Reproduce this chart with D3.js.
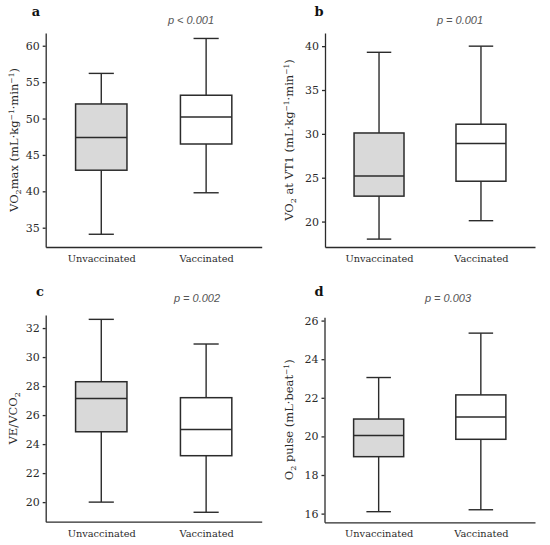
<!DOCTYPE html>
<html>
<head>
<meta charset="utf-8">
<script src="https://cdn.jsdelivr.net/npm/d3@7"></script>
<style>
  body { margin: 0; background: #fff; }
  svg { display: block; }
</style>
</head>
<body>
<svg id="chart" width="550" height="545"></svg>
<script>
var groups = ["Unvaccinated", "Vaccinated"];

// min, Q1, median, Q3, max
var vo2max = [[34.1, 42.9, 47.4, 52.0, 56.2], [39.8, 46.5, 50.2, 53.2, 61.0]];
var vo2vt1 = [[18.0, 22.9, 25.2, 30.1, 39.3], [20.1, 24.6, 28.9, 31.1, 40.0]];
var veVco2 = [[20.0, 24.85, 27.15, 28.3, 32.6], [19.3, 23.2, 25.0, 27.2, 30.9]];
var o2pulse = [[16.1, 18.95, 20.05, 20.9, 23.05], [16.2, 19.85, 21.0, 22.15, 25.35]];

var vo2maxTicks = [35, 40, 45, 50, 55, 60];
var vo2vt1Ticks = [20, 25, 30, 35, 40];
var veVco2Ticks = [20, 22, 24, 26, 28, 30, 32];
var o2pulseTicks = [16, 18, 20, 22, 24, 26];

var letters = ["a", "b", "c", "d"];
var pLabels = ["p < 0.001", "p = 0.001", "p = 0.002", "p = 0.003"];

var vo2maxTitle = [["VO", ""], ["2", "sub"], ["max (mL·kg", ""], ["−1", "sup"], ["·min", ""], ["−1", "sup"], [")", ""]];
var vo2vt1Title = [["VO", ""], ["2", "sub"], [" at VT1 (mL·kg", ""], ["−1", "sup"], ["·min", ""], ["−1", "sup"], [")", ""]];
var veVco2Title = [["VE/VCO", ""], ["2", "sub"]];
var o2pulseTitle = [["O", ""], ["2", "sub"], [" pulse (mL·beat", ""], ["−1", "sup"], [")", ""]];

var fills = ["#d9d9d9", "#ffffff"];
var ink = "#2b2b2b";

var panels = [
    {stats: vo2max, ticks: vo2maxTicks, title: vo2maxTitle, domain: [32.35, 61.75],
        left: 45.7, right: 261.7, top: 33, bottom: 247, titleX: 14, letterX: 36, letterY: 16, pX: 191, pY: 24},
    {stats: vo2vt1, ticks: vo2vt1Ticks, title: vo2vt1Title, domain: [17.1, 41.5],
        left: 325, right: 535, top: 33, bottom: 247, titleX: 289, letterX: 319, letterY: 16, pX: 460, pY: 24},
    {stats: veVco2, ticks: veVco2Ticks, title: veVco2Title, domain: [18.65, 32.9],
        left: 45.7, right: 261.7, top: 315, bottom: 521.7, titleX: 13, letterX: 40, letterY: 296, pX: 197, pY: 302},
    {stats: o2pulse, ticks: o2pulseTicks, title: o2pulseTitle, domain: [15.55, 26.17],
        left: 324.5, right: 535, top: 317.3, bottom: 522.3, titleX: 289, letterX: 319, letterY: 296, pX: 448, pY: 302}
];

var svg = d3.select("#chart");

panels.forEach(function (p, i) {
    var g = svg.append("g");

    var x = d3.scalePoint()
        .domain(groups)
        .range([p.left, p.right])
        .padding(0.53);

    var y = d3.scaleLinear()
        .domain(p.domain)
        .range([p.bottom, p.top]);

    var step = x.step();
    var boxW = step * 0.49;
    var capW = step * 0.24;

    // y axis
    var yAxis = g.append("g")
        .attr("transform", "translate(" + p.left + ",0)")
        .call(d3.axisLeft(y).tickValues(p.ticks).tickSize(3).tickSizeOuter(0).tickPadding(3));
    yAxis.select(".domain").attr("stroke", ink).attr("stroke-width", 1.3);
    yAxis.selectAll(".tick line").attr("stroke", ink).attr("stroke-width", 1.3);
    yAxis.selectAll(".tick text")
        .attr("fill", ink)
        .style("font-family", "'DejaVu Serif', serif")
        .style("font-size", "11px");

    // x axis
    var xAxis = g.append("g")
        .attr("transform", "translate(0," + p.bottom + ")")
        .call(d3.axisBottom(x).tickSize(0).tickSizeOuter(0).tickPadding(8));
    xAxis.select(".domain").attr("stroke", ink).attr("stroke-width", 1.3);
    xAxis.selectAll(".tick text")
        .attr("fill", ink)
        .style("font-family", "'DejaVu Serif', serif")
        .style("font-size", "9.8px");

    var box = g.selectAll(".box")
        .data(p.stats)
        .enter().append("g")
        .attr("class", "box");

    // whiskers
    box.append("line")
        .attr("x1", function (d, j) { return x(groups[j]); })
        .attr("x2", function (d, j) { return x(groups[j]); })
        .attr("y1", function (d) { return y(d[0]); })
        .attr("y2", function (d) { return y(d[4]); })
        .attr("stroke", ink)
        .attr("stroke-width", 1.4);

    [0, 4].forEach(function (k) {
        box.append("line")
            .attr("x1", function (d, j) { return x(groups[j]) - capW / 2; })
            .attr("x2", function (d, j) { return x(groups[j]) + capW / 2; })
            .attr("y1", function (d) { return y(d[k]); })
            .attr("y2", function (d) { return y(d[k]); })
            .attr("stroke", ink)
            .attr("stroke-width", 1.4);
    });

    box.append("rect")
        .attr("x", function (d, j) { return x(groups[j]) - boxW / 2; })
        .attr("y", function (d) { return y(d[3]); })
        .attr("width", boxW)
        .attr("height", function (d) { return y(d[1]) - y(d[3]); })
        .attr("fill", function (d, j) { return fills[j]; })
        .attr("stroke", ink)
        .attr("stroke-width", 1.5);

    box.append("line")
        .attr("x1", function (d, j) { return x(groups[j]) - boxW / 2; })
        .attr("x2", function (d, j) { return x(groups[j]) + boxW / 2; })
        .attr("y1", function (d) { return y(d[2]); })
        .attr("y2", function (d) { return y(d[2]); })
        .attr("stroke", ink)
        .attr("stroke-width", 1.5);

    // y title
    var midY = (p.top + p.bottom) / 2;
    var title = g.append("text")
        .attr("transform", "translate(" + p.titleX + "," + midY + ") rotate(-90)")
        .attr("text-anchor", "middle")
        .attr("dy", "0.35em")
        .attr("fill", ink)
        .style("font-family", "'DejaVu Serif', serif")
        .style("font-size", "11.5px");

    var prevKind = "";
    p.title.forEach(function (part) {
        var t = title.append("tspan").text(part[0]);
        var shift = 0;
        if (prevKind === "sub") shift -= 3;
        if (prevKind === "sup") shift += 4.5;
        if (part[1] === "sub") {
            t.style("font-size", "8px");
            shift += 3;
        } else if (part[1] === "sup") {
            t.style("font-size", "7.5px");
            shift -= 4.5;
        }
        if (shift !== 0) t.attr("dy", shift);
        prevKind = part[1];
    });

    // panel letter
    g.append("text")
        .attr("x", p.letterX)
        .attr("y", p.letterY)
        .attr("text-anchor", "middle")
        .attr("fill", "#111")
        .style("font-family", "'DejaVu Serif', serif")
        .style("font-weight", "bold")
        .style("font-size", "13px")
        .text(letters[i]);

    // p value
    g.append("text")
        .attr("x", p.pX)
        .attr("y", p.pY)
        .attr("text-anchor", "middle")
        .attr("fill", "#555")
        .style("font-family", "'Liberation Sans', Arial, sans-serif")
        .style("font-style", "italic")
        .style("font-size", "11px")
        .text(pLabels[i]);
});
</script>
</body>
</html>
